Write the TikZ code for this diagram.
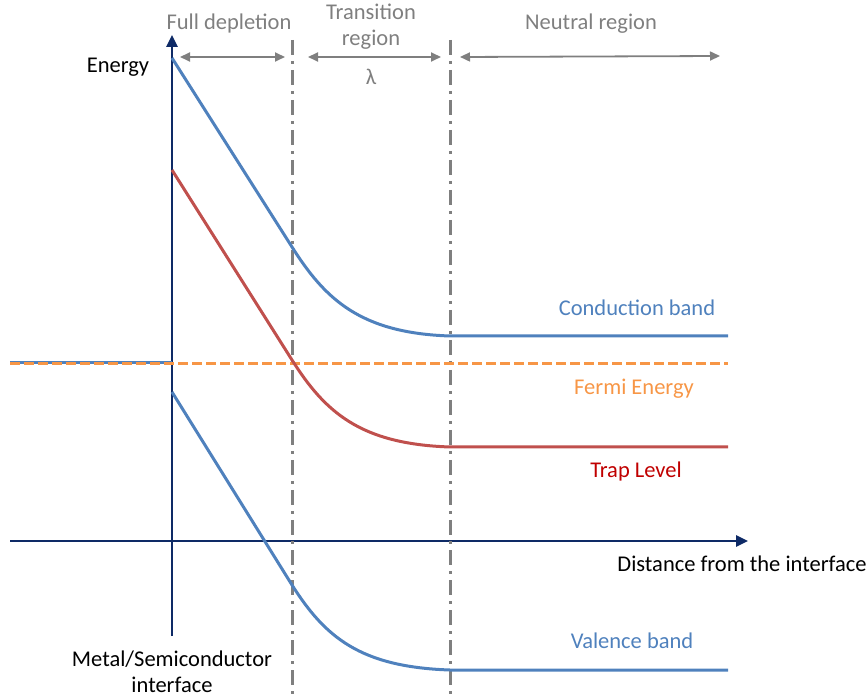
\documentclass[tikz,border=0pt]{standalone}
\usepackage{fontspec}
\setmainfont{Carlito}
\usetikzlibrary{arrows.meta}
\definecolor{bandblue}{HTML}{4F81BD}
\definecolor{trapred}{HTML}{C0504D}
\definecolor{traptext}{HTML}{C00000}
\definecolor{fermiorange}{HTML}{F79646}
\definecolor{axisnavy}{HTML}{0E2A66}
\definecolor{regiongray}{HTML}{7F7F7F}
\tikzstyle{axis}=[draw=axisnavy,line width=2.6pt,-{Triangle[length=12pt,width=11pt]}]
\tikzstyle{band}=[line width=3pt]
\tikzstyle{border}=[draw=regiongray,line width=3pt,dash pattern=on 15pt off 6pt on 3pt off 6pt]
\tikzstyle{span}=[draw=regiongray,line width=1.8pt,{Triangle[length=10pt,width=9pt]}-{Triangle[length=10pt,width=9pt]}]
\tikzstyle{txt}=[inner sep=0pt,font=\fontsize{22.5}{26}\selectfont]

\begin{document}
\begin{tikzpicture}[x=1pt,y=-1pt]
\useasboundingbox (0,0) rectangle (868,700);
% axes
\coordinate (ybot) at (172,636);
\coordinate (ytop) at (172,35);
\coordinate (xleft) at (10,541);
\coordinate (xright) at (748,541);
\draw[axis] (ybot) -- (ytop);
\draw[axis] (xleft) -- (xright);
% region borders
\coordinate (b1top) at (292,40);
\coordinate (b1bot) at (292,700);
\coordinate (b2top) at (450,40);
\coordinate (b2bot) at (450,700);
\draw[border] (b1top) -- (b1bot);
\draw[border] (b2top) -- (b2bot);
% metal level and fermi energy
\coordinate (metal) at (10,363);
\coordinate (metalend) at (172,363);
\coordinate (fermi) at (10,364);
\coordinate (fermiend) at (728,364);
\draw[band,draw=bandblue] (metal) -- (metalend);
\draw[band,draw=fermiorange,dash pattern=on 10pt off 4pt] (fermi) -- (fermiend);
% conduction band
\coordinate (cb0) at (172,58);
\coordinate (cb1) at (292,247);
\coordinate (cb2) at (450,336);
\coordinate (cb3) at (728,336);
\draw[band,draw=bandblue] (cb0) -- (cb1) .. controls (325,299) and (360,333) .. (cb2) -- (cb3);
% trap level
\coordinate (tl0) at (172,170);
\coordinate (tl1) at (292,360);
\coordinate (tl2) at (450,447);
\coordinate (tl3) at (728,447);
\draw[band,draw=trapred] (tl0) -- (tl1) .. controls (325,412) and (360,444) .. (tl2) -- (tl3);
% valence band
\coordinate (vb0) at (172,392);
\coordinate (vb1) at (292,585);
\coordinate (vb2) at (450,670);
\coordinate (vb3) at (728,670);
\draw[band,draw=bandblue] (vb0) -- (vb1) .. controls (325,637) and (360,667) .. (vb2) -- (vb3);
% region spans
\coordinate (s1a) at (180,57);
\coordinate (s1b) at (285,57);
\coordinate (s2a) at (308,57);
\coordinate (s2b) at (441,57);
\coordinate (s3a) at (460,57);
\coordinate (s3b) at (720,56);
\draw[span] (s1a) -- (s1b);
\draw[span] (s2a) -- (s2b);
\draw[span] (s3a) -- (s3b);
% labels
\node[txt,text=regiongray] (full) at (229,24) {Full depletion};
\node[txt,text=regiongray,align=center] (trans) at (371,27) {Transition\\region};
\node[txt,text=regiongray] (lambda) at (371,77) {λ};
\node[txt,text=regiongray] (neutral) at (591,24) {Neutral region};
\node[txt] (energy) at (118,67) {Energy};
\node[txt,text=bandblue] (cblabel) at (637,308) {Conduction band};
\node[txt,text=fermiorange] (felabel) at (634,389) {Fermi Energy};
\node[txt,text=traptext] (tllabel) at (636,472) {Trap Level};
\node[txt] (xlabel) at (742,564) {Distance from the interface};
\node[txt,text=bandblue] (vblabel) at (632,641) {Valence band};
\node[txt,align=center] (iface) at (172,672) {Metal/Semiconductor\\interface};
\end{tikzpicture}
\end{document}
